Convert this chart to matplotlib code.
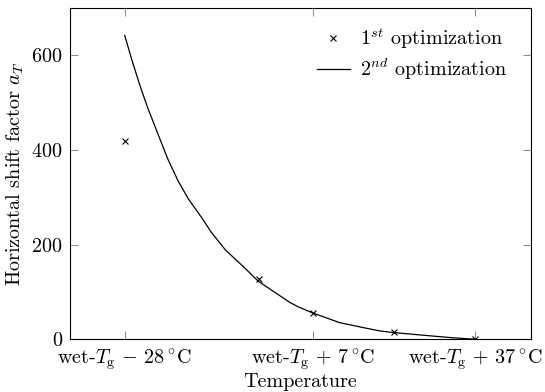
import numpy as np
import matplotlib
matplotlib.use("Agg")
import matplotlib.pyplot as plt

# temperatures relative to wet-Tg [°C]
t_first = [-28, -3, 7, 22, 37]
a_first = [418, 127, 56, 16, 1]

t_second = [-28, -26.75, -25.2, -23.7, -21.8, -20.0, -18.1, -16.2, -13.7, -11.9,
            -9.3, -6.0, -3.2, 0.2, 2.7, 4.2, 6.9, 11.9, 16.3, 19.4,
            21.9, 28.7, 33.0, 37.0]
a_second = [642, 593, 537, 488, 433, 381, 335, 297, 257, 226,
            189, 154, 123, 97, 78, 69, 56, 35.5, 25, 18,
            14.6, 7.7, 3.5, 0.5]

xticks = [-28, 7, 37]
xticklabels = [r'wet-$T_{\mathrm{g}}\,-\,28\,^{\circ}\mathrm{C}$',
               r'wet-$T_{\mathrm{g}}\,+\,7\,^{\circ}\mathrm{C}$',
               r'wet-$T_{\mathrm{g}}\,+\,37\,^{\circ}\mathrm{C}$']
yticks = [0, 200, 400, 600]

plt.rcParams['font.family'] = 'serif'
plt.rcParams['font.serif'] = ['cmr10']
plt.rcParams['mathtext.fontset'] = 'cm'
plt.rcParams['axes.formatter.use_mathtext'] = True
plt.rcParams['font.size'] = 14.5

fig = plt.figure(figsize=(5.45, 3.92), dpi=100)
ax = fig.add_axes([0.128, 0.134, 0.846, 0.846])

ax.plot(t_first, a_first, linestyle='none', marker='x', color='black',
        markersize=5, markeredgewidth=0.8, label=r'$1^{st}$ optimization')
ax.plot(t_second, a_second, color='black', linewidth=0.9,
        solid_joinstyle='round', label=r'$2^{nd}$ optimization')

ax.set_xlim(-38.2, 47.4)
ax.set_ylim(0, 700)
ax.set_xticks(xticks)
ax.set_xticklabels(xticklabels)
ax.set_yticks(yticks)

ax.tick_params(direction='in', top=True, right=True, length=6,
               width=0.6, color='0.45')
ax.tick_params(axis='x', pad=5.5)
ax.tick_params(axis='y', pad=5)
for s in ax.spines.values():
    s.set_linewidth(0.8)

ax.set_xlabel('Temperature', labelpad=0)
ax.set_ylabel(r'Horizontal shift factor $a_T$', labelpad=4)

ax.legend(loc='upper right', bbox_to_anchor=(0.987, 1.0), frameon=False,
          handlelength=1.6, handletextpad=0.5, borderaxespad=0.5,
          labelspacing=0.3)

fig.savefig('out.png', dpi=100)
